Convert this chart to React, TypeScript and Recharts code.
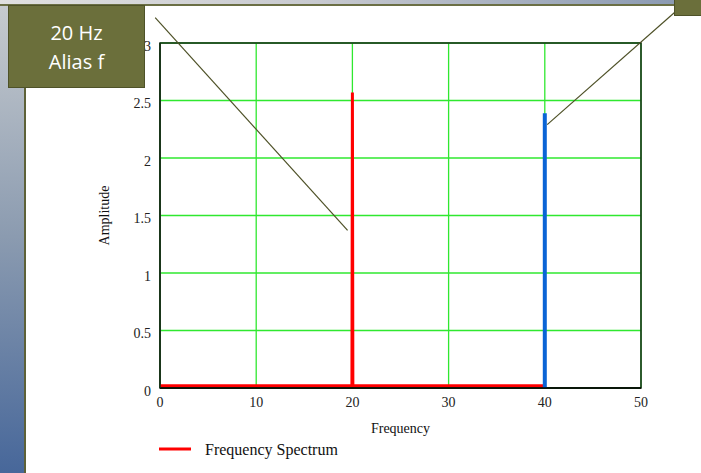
import React from 'react'
import { LineChart, Line, XAxis, YAxis, CartesianGrid, Legend, ReferenceArea, ReferenceLine } from 'recharts'

// frequency axis
const FREQ_TICKS = [0, 10, 20, 30, 40, 50]
const AMP_TICKS = [0, 0.5, 1, 1.5, 2, 2.5, 3]

// red spectrum trace (baseline + alias spike at 20 Hz)
const SPEC_F = [0, 19.95, 20, 20.05, 40]
const SPEC_A = [0.02, 0.02, 2.57, 0.02, 0.02]

// blue line for the true 40 Hz component
const TRUE_F = [40, 40]
const TRUE_A = [0, 2.39]

// callout leader lines (data coords)
const CALLOUT_A = [{ x: -0.5, y: 3.22 }, { x: 19.5, y: 1.37 }]
const CALLOUT_B = [{ x: 40.25, y: 2.29 }, { x: 54.9, y: 3.37 }]

const spectrum = SPEC_F.map((f, i) => ({ f, a: SPEC_A[i] }))
const trueLine = TRUE_F.map((f, i) => ({ f, a: TRUE_A[i] }))

const SERIF = '"Liberation Serif", "Times New Roman", serif'
const OLIVE = '#6b6f3b'

const LegendBox = (props: any) => {
  const items = (props.payload || []).filter((p: any) => p.type !== 'none')
  return (
    <div style={{ display: 'flex', alignItems: 'center', fontFamily: SERIF, fontSize: 16, color: '#111' }}>
      {items.map((p: any, i: number) => (
        <div key={i} style={{ display: 'flex', alignItems: 'center' }}>
          <svg width={34} height={6} style={{ marginRight: 13, marginTop: -3 }}>
            <line x1={1} y1={3} x2={33} y2={3} stroke={p.color} strokeWidth={3} />
          </svg>
          <span>{p.value}</span>
        </div>
      ))}
    </div>
  )
}

export default function App() {
  return (
    <div style={{ position: 'fixed', left: 0, top: 0, width: 701, height: 473, background: '#fff', overflow: 'hidden' }}>
      {/* slide frame */}
      <div style={{ position: 'absolute', left: 0, top: 0, width: 24, height: 473, background: 'linear-gradient(#c8ccd0, #8b9bb0 50%, #47679a)' }} />
      <div style={{ position: 'absolute', left: 24, top: 0, width: 2, height: 473, background: '#5d6138' }} />
      <div style={{ position: 'absolute', left: 0, top: 0, width: 701, height: 4, background: 'linear-gradient(90deg, #e0e0e0, #c8cad0 45%, #8797b0)' }} />
      <div style={{ position: 'absolute', left: 0, top: 4, width: 701, height: 2, background: '#6b6f45' }} />

      <div style={{ position: 'absolute', left: 0, top: 0 }}>
        <LineChart width={701} height={473} margin={{ top: 43, right: 60, left: 0, bottom: 0 }}>
          <CartesianGrid stroke="#2fe82f" strokeWidth={1.3} />
          <XAxis
            type="number"
            dataKey="f"
            domain={[0, 50]}
            ticks={FREQ_TICKS}
            height={85}
            tickSize={0}
            tickMargin={9}
            tickLine={false}
            axisLine={{ stroke: '#000', strokeWidth: 1.5 }}
            tick={{ fontFamily: SERIF, fontSize: 14, fill: '#222' }}
            label={{ value: 'Frequency', position: 'insideTop', offset: 35, style: { fontFamily: SERIF, fontSize: 14, fill: '#111' } }}
          />
          <YAxis
            type="number"
            domain={[0, 3]}
            ticks={AMP_TICKS}
            width={160}
            tickSize={0}
            tickMargin={9}
            tickLine={false}
            axisLine={{ stroke: '#142a14', strokeWidth: 1.5 }}
            tick={{ fontFamily: SERIF, fontSize: 14, fill: '#222', dy: 3 }}
            label={{ value: 'Amplitude', angle: -90, position: 'center', dx: 24, style: { fontFamily: SERIF, fontSize: 14, fill: '#111' } }}
          />
          <ReferenceArea x1={0} x2={50} y1={0} y2={3} fill="none" fillOpacity={0} stroke="#142a14" strokeWidth={1.5} />
          <Line data={spectrum} dataKey="a" name="Frequency Spectrum" stroke="#ff0000" strokeWidth={3} dot={false} isAnimationActive={false} />
          <Line data={trueLine} dataKey="a" name="true" legendType="none" stroke="#0a64d6" strokeWidth={4} dot={false} isAnimationActive={false} />
          <ReferenceLine segment={CALLOUT_A} ifOverflow="visible" stroke="#4d5026" strokeWidth={1.2} />
          <ReferenceLine segment={CALLOUT_B} ifOverflow="visible" stroke="#4d5026" strokeWidth={1.2} />
          <Legend layout="horizontal" verticalAlign="middle" align="center" content={LegendBox} wrapperStyle={{ left: 158, top: 441, width: 300 }} />
        </LineChart>
      </div>

      {/* callout boxes */}
      <div style={{ position: 'absolute', left: 8, top: 5, width: 135, height: 81, background: OLIVE, border: '1px solid #4e5228', color: '#fff', fontFamily: '"Open Sans", Lato, sans-serif', fontSize: 20, lineHeight: '29px', textAlign: 'center', display: 'flex', flexDirection: 'column', justifyContent: 'center' }}>
        <div>20 Hz</div>
        <div>Alias f</div>
      </div>
      <div style={{ position: 'absolute', left: 674, top: -1, width: 30, height: 15, background: OLIVE, border: '1px solid #4e5228' }} />
    </div>
  )
}
